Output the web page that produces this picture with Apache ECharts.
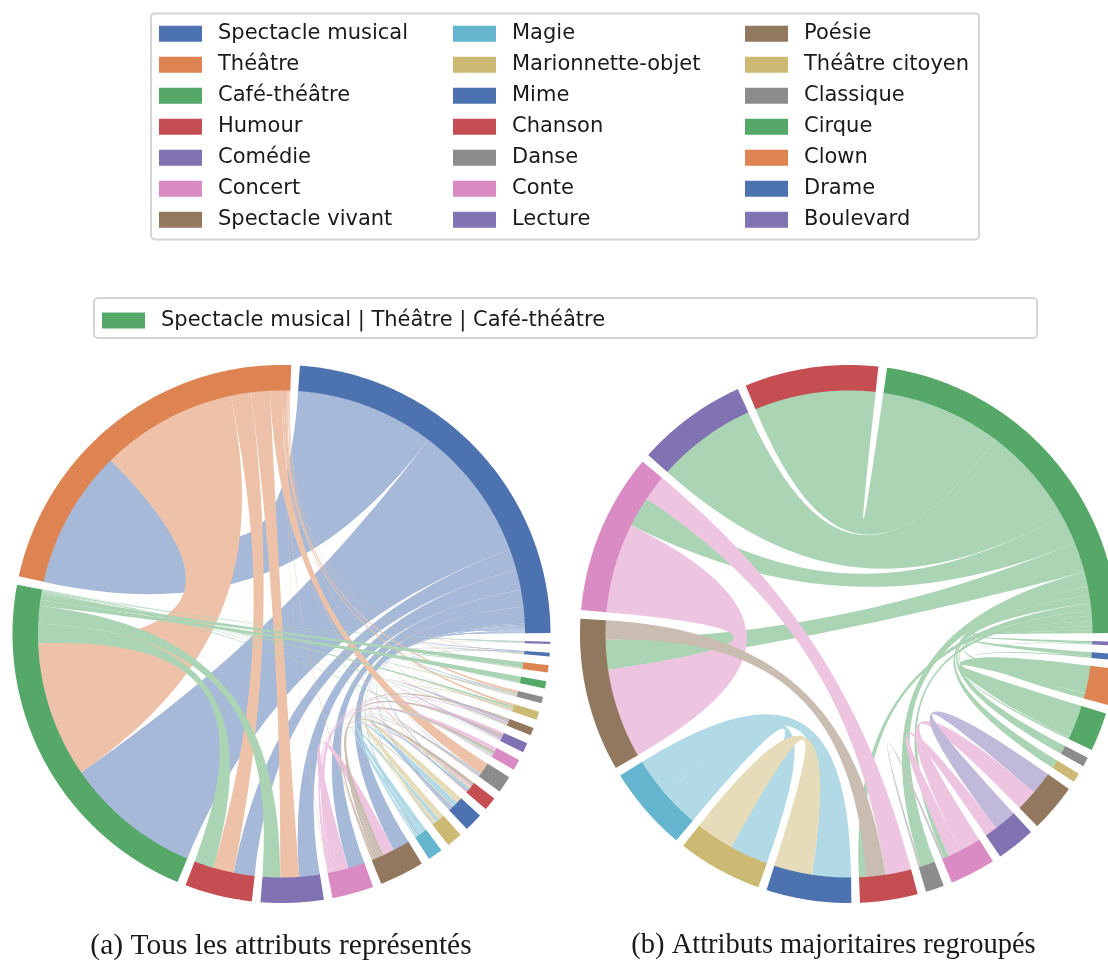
<!DOCTYPE html>
<html>
<head>
<meta charset="utf-8">
<script src="https://cdn.jsdelivr.net/npm/echarts@6/dist/echarts.min.js"></script>
<style>
  html, body { margin: 0; padding: 0; background: #ffffff; }
  #main { width: 1108px; height: 963px; }
</style>
</head>
<body>
<div id="main"></div>
<script>
// ---- Data: attribute co-occurrence (chord weights) ----
const namesA = ['Spectacle musical', 'Théâtre', 'Café-théâtre', 'Humour', 'Comédie', 'Concert',
  'Spectacle vivant', 'Magie', 'Marionnette-objet', 'Mime', 'Chanson', 'Danse', 'Conte', 'Lecture',
  'Poésie', 'Théâtre citoyen', 'Classique', 'Cirque', 'Clown', 'Drame', 'Boulevard'];

// [source, target, weight]
const linksA = [
  [0, 1, 33.2], [0, 2, 32.7], [0, 3, 5.0], [0, 4, 4.9], [0, 5, 4.0], [0, 6, 4.0], [0, 7, 0.3],
  [0, 8, 0.2], [0, 9, 0.2], [0, 10, 0.3], [0, 11, 0.1], [0, 12, 0.1], [0, 13, 0.1], [0, 14, 0.1],
  [0, 15, 0.1], [0, 16, 0.2], [0, 17, 0.1], [0, 18, 0.1], [0, 19, 0.2], [0, 20, 0.2],
  [1, 2, 32.5], [1, 3, 4.9], [1, 4, 4.5], [1, 5, 0.1], [1, 6, 0.2], [1, 9, 0.1], [1, 10, 0.2],
  [1, 11, 2.8], [1, 13, 0.1], [1, 14, 0.1], [1, 15, 0.5], [1, 16, 0.5], [1, 18, 0.1], [1, 19, 0.1],
  [2, 3, 4.7], [2, 4, 4.2], [2, 12, 0.2], [2, 13, 0.1], [2, 14, 0.1], [2, 15, 0.5], [2, 16, 0.2],
  [2, 17, 1.3], [2, 18, 1.2], [2, 19, 0.1], [2, 20, 0.2],
  [5, 6, 2.6], [5, 10, 0.5], [5, 12, 0.9], [5, 13, 0.6], [5, 14, 0.3],
  [6, 9, 0.3], [6, 10, 0.8], [6, 11, 0.2], [6, 12, 0.6], [6, 13, 0.5], [6, 14, 0.5],
  [7, 8, 0.8], [7, 9, 1.3], [7, 10, 0.3], [7, 11, 0.2], [7, 12, 0.2], [7, 13, 0.1],
  [8, 9, 1.4], [8, 10, 0.4], [8, 11, 0.1], [8, 12, 0.2], [8, 15, 0.3],
  [9, 10, 0.3], [9, 11, 0.2], [9, 19, 0.2],
  [10, 11, 0.1], [12, 13, 0.2], [13, 14, 0.4], [14, 15, 0.2], [15, 16, 0.2],
  [16, 19, 0.2], [16, 20, 0.1], [17, 18, 0.2]
];

const groupName = 'Spectacle musical | Théâtre | Café-théâtre';
const namesB = [groupName, 'Humour', 'Comédie', 'Concert', 'Spectacle vivant', 'Magie',
  'Marionnette-objet', 'Mime', 'Chanson', 'Danse', 'Conte', 'Lecture', 'Poésie', 'Théâtre citoyen',
  'Classique', 'Cirque', 'Clown', 'Drame', 'Boulevard'];

const linksB = [
  [0, 1, 28.3], [0, 2, 23.4], [0, 3, 7.1], [0, 4, 7.0], [0, 8, 1.7], [0, 9, 3.4], [0, 10, 1.2],
  [0, 13, 2.0], [0, 14, 2.0], [0, 15, 1.2], [0, 16, 1.2], [0, 17, 1.0], [0, 18, 0.6],
  [3, 4, 21.0], [3, 8, 6.0], [4, 8, 4.5],
  [5, 6, 9.0], [5, 7, 9.0], [6, 7, 9.0],
  [9, 10, 0.5], [10, 11, 3.0], [10, 12, 5.0], [11, 12, 5.2],
  [15, 16, 6.5], [15, 17, 0.3], [15, 18, 0.2]
];

const captions = ['(a) Tous les attributs représentés', '(b) Attributs majoritaires regroupés'];

// ---- Palette ----
const C = {
  blue: '#4c72b0', orange: '#dd8452', green: '#55a868', red: '#c44e52', purple: '#8172b3',
  brown: '#937860', pink: '#da8bc3', gray: '#8c8c8c', yellow: '#ccb974', cyan: '#64b5cd'
};
const colorsA = [C.blue, C.orange, C.green, C.red, C.purple, C.pink, C.brown, C.cyan, C.yellow,
  C.blue, C.red, C.gray, C.pink, C.purple, C.brown, C.yellow, C.gray, C.green, C.orange, C.blue, C.purple];
const colorsB = [C.green].concat(colorsA.slice(3));

function pale(hex) {
  const n = parseInt(hex.slice(1), 16);
  const mix = v => Math.round(v + (255 - v) * 0.5);
  return 'rgb(' + mix((n >> 16) & 255) + ',' + mix((n >> 8) & 255) + ',' + mix(n & 255) + ')';
}

// ---- Chord layout: arc spans and ribbon end spans, in degrees ----
function chordLayout(count, links, gap, start) {
  const totals = new Array(count).fill(0);
  links.forEach(l => { totals[l[0]] += l[2]; totals[l[1]] += l[2]; });
  const sum = totals.reduce((a, b) => a + b, 0);
  const k = (360 - count * gap) / sum;
  const arcs = [];
  let a = start;
  totals.forEach(t => { arcs.push([a, a + t * k]); a += t * k + gap; });
  const ends = links.map(() => [null, null]);
  for (let i = 0; i < count; i++) {
    const own = [];
    links.forEach((l, li) => {
      if (l[0] === i) own.push({ li, side: 0, other: l[1], v: l[2] });
      else if (l[1] === i) own.push({ li, side: 1, other: l[0], v: l[2] });
    });
    own.sort((p, q) => (p.v - q.v) || (q.other - p.other));
    let p = arcs[i][0];
    own.forEach(o => { const w = o.v * k; ends[o.li][o.side] = [p, p + w]; p += w; });
  }
  const ribbons = links.map((l, li) => ({
    lo: Math.min(l[0], l[1]), hi: Math.max(l[0], l[1]), s: ends[li][0], t: ends[li][1]
  }))
    .sort((p, q) => (p.lo - q.lo) || (p.hi - q.hi))
    .map(r => [r.s[0], r.s[1], r.t[0], r.t[1], r.lo]);
  return { arcs, ribbons };
}

const layoutA = chordLayout(namesA.length, linksA, 1.85, 0.2);
const layoutB = chordLayout(namesB.length, linksB, 1.85, 0.2);

// ---- Geometry helpers (polar data -> pixels through the polar coordinate system) ----
const R_OUT = 269, R_IN = 243.5, R_RIB = 244;

function pt(api, r, a) {
  const p = api.coord([r, a]);
  return p[0].toFixed(2) + ' ' + p[1].toFixed(2);
}
function arcPoints(api, r, a0, a1, first) {
  const steps = Math.max(2, Math.ceil(Math.abs(a1 - a0) / 0.4));
  let d = '';
  for (let s = 0; s <= steps; s++) {
    const a = a0 + (a1 - a0) * s / steps;
    d += (s === 0 && first ? 'M' : 'L') + pt(api, r, a) + ' ';
  }
  return d;
}
function ringPath(api, a0, a1) {
  return arcPoints(api, R_OUT, a0, a1, true) + arcPoints(api, R_IN, a1, a0, false) + 'Z';
}
function ribbonPath(api, s0, s1, t0, t1) {
  const rc = R_RIB * 0.3;
  let d = arcPoints(api, R_RIB, s0, s1, true);
  d += 'C' + pt(api, rc, s1) + ' ' + pt(api, rc, t0) + ' ' + pt(api, R_RIB, t0) + ' ';
  d += arcPoints(api, R_RIB, t0, t1, false);
  d += 'C' + pt(api, rc, t1) + ' ' + pt(api, rc, s0) + ' ' + pt(api, R_RIB, s0) + ' Z';
  return d;
}

function arcSeries(names, colors, layout, polarIndex) {
  return names.map((name, i) => ({
    type: 'custom',
    name: name,
    coordinateSystem: 'polar',
    polarIndex: polarIndex,
    silent: true,
    animation: false,
    z: 3,
    itemStyle: { color: colors[i] },
    data: [layout.arcs[i]],
    renderItem: (params, api) => ({
      type: 'path',
      shape: { pathData: ringPath(api, api.value(0), api.value(1)) },
      style: { fill: colors[i] }
    })
  }));
}

function ribbonSeries(colors, layout, polarIndex, id) {
  return {
    type: 'custom',
    id: id,
    coordinateSystem: 'polar',
    polarIndex: polarIndex,
    silent: true,
    animation: false,
    z: 2,
    data: layout.ribbons,
    renderItem: (params, api) => ({
      type: 'path',
      shape: { pathData: ribbonPath(api, api.value(0), api.value(1), api.value(2), api.value(3)) },
      style: { fill: pale(colors[api.value(4)]) }
    })
  };
}

const legendText = {
  fontFamily: 'DejaVu Sans', fontSize: 21, color: '#1a1a1a', lineHeight: 16, padding: [0, 0, 0, 11]
};
function legendCol(data, left, top) {
  return {
    data: data, left: left, top: top, orient: 'vertical', icon: 'rect',
    itemWidth: 43, itemHeight: 16, itemGap: 10, padding: 0,
    selectedMode: false, textStyle: legendText
  };
}

const chart = echarts.init(document.getElementById('main'), null, { renderer: 'canvas' });
chart.setOption({
  backgroundColor: '#ffffff',
  animation: false,
  polar: [
    { center: [281.5, 634], radius: R_OUT },
    { center: [849, 634], radius: R_OUT }
  ],
  angleAxis: [
    { polarIndex: 0, type: 'value', min: 0, max: 360, startAngle: 0, clockwise: false, show: false },
    { polarIndex: 1, type: 'value', min: 0, max: 360, startAngle: 0, clockwise: false, show: false }
  ],
  radiusAxis: [
    { polarIndex: 0, type: 'value', min: 0, max: R_OUT, show: false },
    { polarIndex: 1, type: 'value', min: 0, max: R_OUT, show: false }
  ],
  legend: [
    legendCol(namesA.slice(0, 7), 159, 23.3),
    legendCol(namesA.slice(7, 14), 453, 23.3),
    legendCol(namesA.slice(14, 21), 745, 23.3),
    legendCol([groupName], 102, 310)
  ],
  graphic: [
    { type: 'rect', z: 0, silent: true, shape: { x: 151, y: 13.5, width: 828, height: 226, r: 4 },
      style: { fill: 'none', stroke: '#d4d4d4', lineWidth: 2 } },
    { type: 'rect', z: 0, silent: true, shape: { x: 94, y: 298, width: 943, height: 40, r: 4 },
      style: { fill: 'none', stroke: '#d4d4d4', lineWidth: 2 } },
    { type: 'text', silent: true, x: 281, y: 946,
      style: { text: captions[0], font: '29.5px "Liberation Serif"', fill: '#1a1a1a',
        align: 'center', verticalAlign: 'middle', textAlign: 'center', textVerticalAlign: 'middle' } },
    { type: 'text', silent: true, x: 833.5, y: 946,
      style: { text: captions[1], font: '28.5px "Liberation Serif"', fill: '#1a1a1a',
        align: 'center', verticalAlign: 'middle', textAlign: 'center', textVerticalAlign: 'middle' } }
  ],
  series: [
    ribbonSeries(colorsA, layoutA, 0, 'liens-a'),
    ribbonSeries(colorsB, layoutB, 1, 'liens-b')
  ].concat(arcSeries(namesA, colorsA, layoutA, 0), arcSeries(namesB, colorsB, layoutB, 1))
});
</script>
</body>
</html>
